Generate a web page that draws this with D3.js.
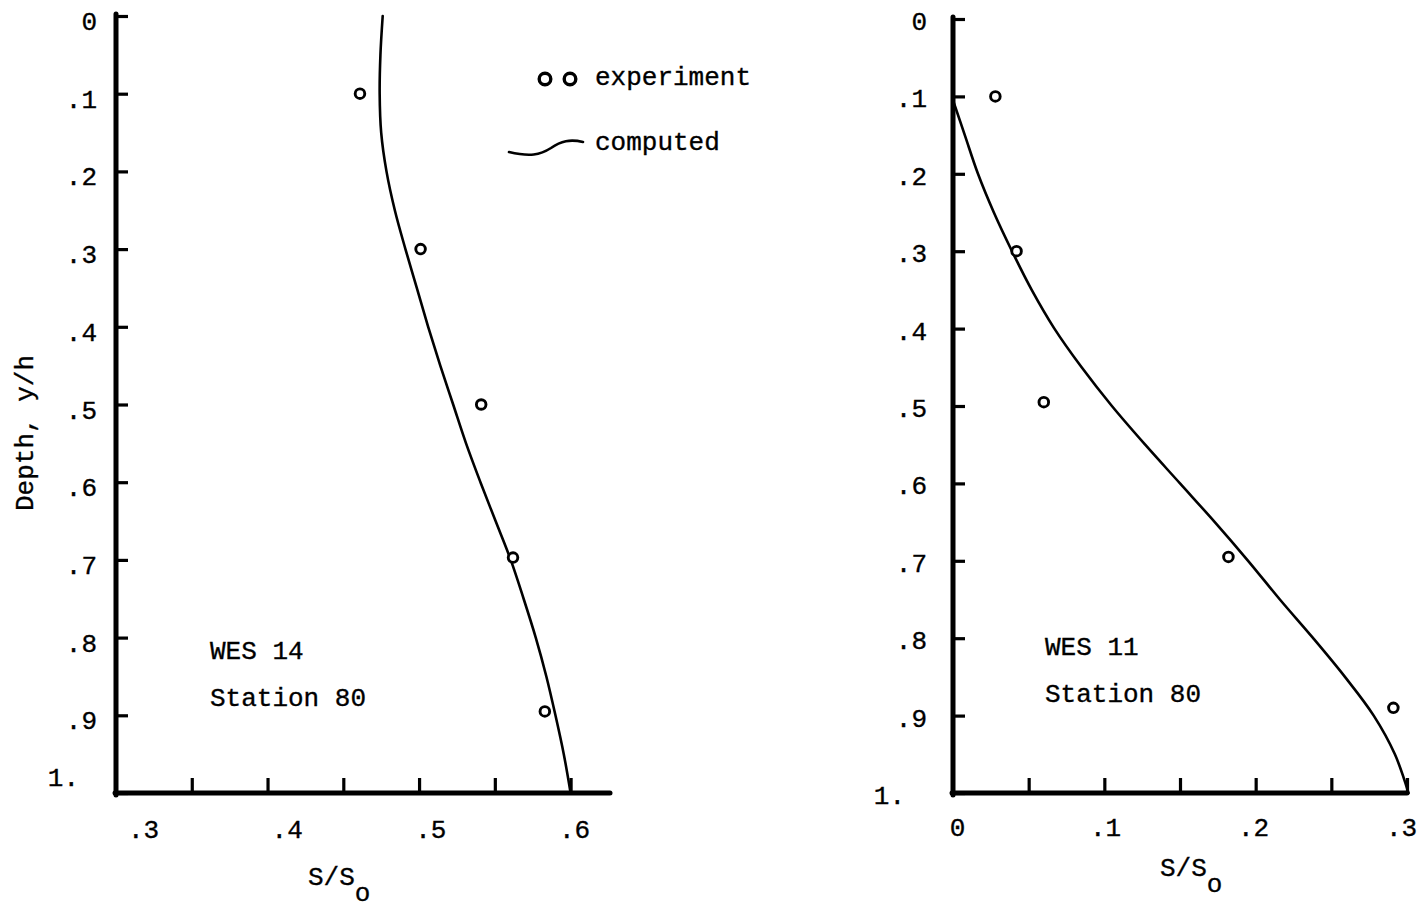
<!DOCTYPE html>
<html>
<head>
<meta charset="utf-8">
<script src="https://cdn.jsdelivr.net/npm/d3@7"></script>
<style>
  html, body { margin: 0; padding: 0; background: #fff; }
  svg { display: block; }
  text { font-family: "Liberation Mono", "DejaVu Sans Mono", monospace; fill: #000; stroke: #000; stroke-width: 0.35px; }
</style>
</head>
<body>
<svg id="chart" width="1420" height="911"></svg>
<script>
// ---- depth axis (shared by both panels) ----
const depthTicks  = [0, 0.1, 0.2, 0.3, 0.4, 0.5, 0.6, 0.7, 0.8, 0.9, 1.0];
const depthLabels = ["0", ".1", ".2", ".3", ".4", ".5", ".6", ".7", ".8", ".9", "1."];

// ---- WES 14, Station 80 ----
const wes14TickValues  = [0.35, 0.40, 0.45, 0.50, 0.55, 0.60];
const wes14LabelValues = [0.3, 0.4, 0.5, 0.6];
const wes14Labels      = [".3", ".4", ".5", ".6"];
const wes14ExpDepth    = [0.10, 0.30, 0.50, 0.697, 0.895];
const wes14ExpS        = [0.461, 0.501, 0.541, 0.562, 0.583];
const wes14CalcDepth   = [0.00, 0.05, 0.10, 0.15, 0.20, 0.25, 0.30, 0.35, 0.40, 0.45, 0.50, 0.55, 0.60, 0.65, 0.70, 0.75, 0.80, 0.85, 0.90, 0.95, 1.00];
const wes14CalcS       = [0.476, 0.4745, 0.474, 0.475, 0.4785, 0.484, 0.491, 0.4985, 0.506, 0.514, 0.5225, 0.531, 0.5405, 0.5505, 0.5605, 0.569, 0.577, 0.584, 0.590, 0.5955, 0.600];

// ---- WES 11, Station 80 ----
const wes11TickValues  = [0.05, 0.10, 0.15, 0.20, 0.25, 0.30];
const wes11LabelValues = [0, 0.1, 0.2, 0.3];
const wes11Labels      = ["0", ".1", ".2", ".3"];
const wes11ExpDepth    = [0.10, 0.30, 0.495, 0.695, 0.89];
const wes11ExpS        = [0.028, 0.042, 0.060, 0.182, 0.291];
const wes11CalcDepth   = [0.105, 0.15, 0.20, 0.25, 0.30, 0.35, 0.40, 0.45, 0.50, 0.55, 0.60, 0.65, 0.70, 0.75, 0.80, 0.85, 0.90, 0.95, 1.00];
const wes11CalcS       = [0.000, 0.0078, 0.0165, 0.027, 0.039, 0.052, 0.067, 0.085, 0.105, 0.127, 0.150, 0.173, 0.195, 0.216, 0.238, 0.259, 0.278, 0.292, 0.301];

const FONT = 26;
const svg = d3.select("#chart");
svg.append("rect").attr("width", 1420).attr("height", 911).attr("fill", "#fff");

function styleText(sel) {
  sel.style("font-family", '"Liberation Mono", monospace').attr("font-size", FONT)
    .attr("fill", "#000").attr("stroke", "#000").attr("stroke-width", 0.35);
}

function drawPanel(p) {
  const x = d3.scaleLinear().domain(p.xDomain).range(p.xRange);
  const y = d3.scaleLinear().domain([0, 1]).range(p.yRange);
  // typed tick numerals sit slightly off their tick marks
  const xLab = d3.scaleLinear()
    .domain([p.labelValues[0], p.labelValues[p.labelValues.length - 1]])
    .range(p.labelRange);

  const g = svg.append("g");
  const x0 = x(p.xDomain[0]), x1 = x(p.xDomain[1]);
  const yTop = y(0), yBot = y(1);

  // depth axis: inward ticks and labels
  const yAxis = g.append("g").attr("transform", `translate(${x0},0)`)
    .call(d3.axisLeft(y).tickValues(depthTicks).tickSize(-12).tickPadding(p.yLabelPad)
      .tickFormat((d, i) => depthLabels[i]));
  yAxis.select(".domain").remove();
  yAxis.selectAll(".tick line").attr("stroke", "#000").attr("stroke-width", 3.2);
  yAxis.selectAll(".tick text").call(styleText)
    .attr("dy", d => d === 1 ? p.lastLabelDy : p.yLabelDy)
    .attr("dx", d => d === 1 ? p.lastLabelDx : 0);

  // S/So axis ticks (upward)
  const xAxis = g.append("g").attr("transform", `translate(0,${yBot})`)
    .call(d3.axisBottom(x).tickValues(p.tickValues).tickSize(-p.xTickLen).tickFormat(""));
  xAxis.select(".domain").remove();
  xAxis.selectAll(".tick line").attr("stroke", "#000").attr("stroke-width", 3.2);

  // S/So axis numerals
  const xLabels = g.append("g").attr("transform", `translate(0,${yBot})`)
    .call(d3.axisBottom(xLab).tickValues(p.labelValues).tickSize(0).tickPadding(p.xLabelPad)
      .tickFormat((d, i) => p.labels[i]));
  xLabels.select(".domain").remove();
  xLabels.selectAll(".tick text").call(styleText);

  // heavy frame lines
  g.append("line").attr("x1", x0).attr("x2", x0).attr("y1", yTop - 2).attr("y2", yBot + 2)
    .attr("stroke", "#000").attr("stroke-width", 5).attr("stroke-linecap", "round");
  g.append("line").attr("x1", x0 - 1).attr("x2", x1).attr("y1", yBot).attr("y2", yBot)
    .attr("stroke", "#000").attr("stroke-width", 5).attr("stroke-linecap", "round");

  // computed profile
  const calc = p.calcS.map((s, i) => [s, p.calcDepth[i]]);
  g.append("path").datum(calc)
    .attr("d", d3.line().x(d => x(d[0])).y(d => y(d[1])).curve(d3.curveCatmullRom.alpha(0.5)))
    .attr("fill", "none").attr("stroke", "#000").attr("stroke-width", 2.6).attr("stroke-linecap", "round");

  // experimental points
  const exp = p.expS.map((s, i) => [s, p.expDepth[i]]);
  g.selectAll("circle.exp").data(exp).join("circle").attr("class", "exp")
    .attr("cx", d => x(d[0])).attr("cy", d => y(d[1])).attr("r", 4.8)
    .attr("fill", "#fff").attr("stroke", "#000").attr("stroke-width", 2.9);

  // run identification
  g.append("text").attr("x", p.noteX).attr("y", p.noteY).call(styleText).text(p.run);
  g.append("text").attr("x", p.noteX).attr("y", p.noteY + 47).call(styleText).text("Station 80");

  // S/So axis title
  const t = g.append("text").attr("x", p.titleX).attr("y", p.titleY).call(styleText);
  t.append("tspan").text("S/S");
  t.append("tspan").attr("dy", 16).text("o");
}

drawPanel({
  xDomain: [0.3, 0.626], xRange: [116, 610], yRange: [16, 793],
  tickValues: wes14TickValues, labelValues: wes14LabelValues, labels: wes14Labels,
  labelRange: [143, 574], xTickLen: 15, xLabelPad: 27,
  yLabelPad: 19, yLabelDy: "0.52em", lastLabelDy: "-0.28em", lastLabelDx: -18,
  expS: wes14ExpS, expDepth: wes14ExpDepth, calcS: wes14CalcS, calcDepth: wes14CalcDepth,
  run: "WES 14", noteX: 210, noteY: 659, titleX: 308, titleY: 885
});

drawPanel({
  xDomain: [0, 0.3], xRange: [953, 1407], yRange: [19, 793],
  tickValues: wes11TickValues, labelValues: wes11LabelValues, labels: wes11Labels,
  labelRange: [957, 1401], xTickLen: 15, xLabelPad: 25,
  yLabelPad: 26, yLabelDy: "0.40em", lastLabelDy: "0.42em", lastLabelDx: -22,
  expS: wes11ExpS, expDepth: wes11ExpDepth, calcS: wes11CalcS, calcDepth: wes11CalcDepth,
  run: "WES 11", noteX: 1045, noteY: 655, titleX: 1160, titleY: 876
});

// depth axis title
svg.append("text").attr("transform", "translate(33,433) rotate(-90)")
  .attr("text-anchor", "middle").call(styleText).text("Depth, y/h");

// legend
const legend = svg.append("g");
legend.selectAll("circle").data(["a", "b"]).join("circle")
  .attr("cx", (d, i) => 545 + i * 25).attr("cy", 79).attr("r", 5.8)
  .attr("fill", "#fff").attr("stroke", "#000").attr("stroke-width", 3.4);
legend.append("text").attr("x", 595).attr("y", 85).call(styleText).text("experiment");
const sw = d3.path();
sw.moveTo(509, 152);
sw.bezierCurveTo(530, 157, 540, 155, 551, 148);
sw.bezierCurveTo(561, 141, 570, 139, 583, 142);
legend.append("path").attr("d", sw.toString()).attr("fill", "none")
  .attr("stroke", "#000").attr("stroke-width", 2.6).attr("stroke-linecap", "round");
legend.append("text").attr("x", 595).attr("y", 150).call(styleText).text("computed");
</script>
</body>
</html>
